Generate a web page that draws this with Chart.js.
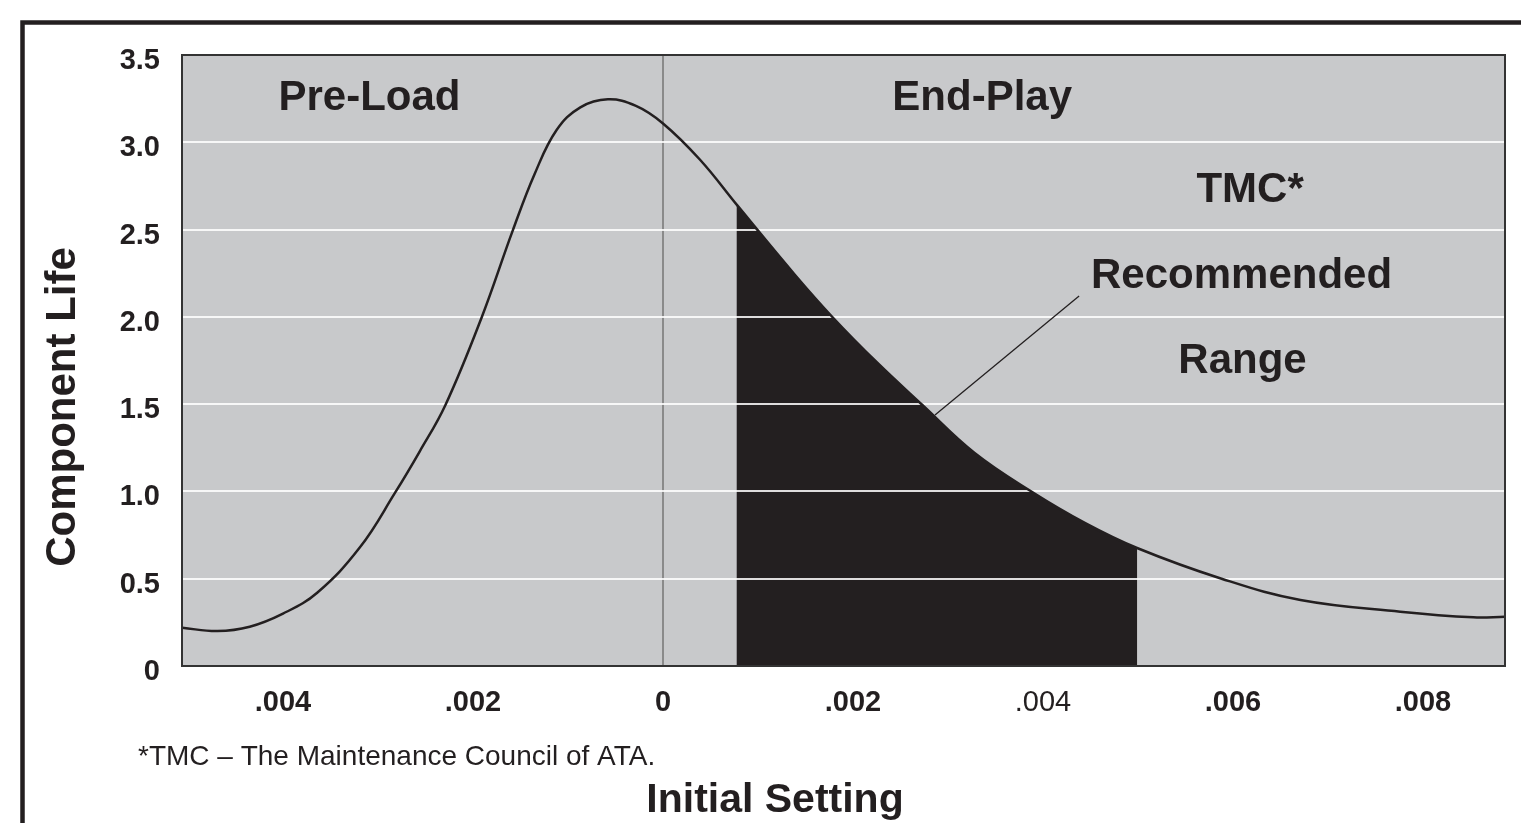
<!DOCTYPE html>
<html>
<head>
<meta charset="utf-8">
<title>Component Life vs Initial Setting</title>
<script src="https://cdn.jsdelivr.net/npm/chart.js@4.4.1/dist/chart.umd.min.js"></script>
<style>
  html, body { margin: 0; padding: 0; background: #fff; }
  #wrap { width: 1521px; height: 823px; position: relative; }
</style>
</head>
<body>
<div id="wrap"><canvas id="lifeChart"></canvas></div>
<script>
// values (x = initial setting, negative side is pre-load)
const settingValues = [-0.00506, -0.00469, -0.00435, -0.00400, -0.00364, -0.00319, -0.00282, -0.00256, -0.00229,
  -0.00191, -0.00158, -0.00135, -0.00112, -0.00087, -0.00058, -0.00029, 0, 0.00039, 0.00078,
  0.00139, 0.00179, 0.00225, 0.00273, 0.00328, 0.00389, 0.00444, 0.00499,
  0.00588, 0.00671, 0.00776, 0.00853, 0.00886];
const lifeValues = [0.219, 0.200, 0.225, 0.300, 0.420, 0.680, 0.993, 1.230, 1.495,
  1.995, 2.497, 2.820, 3.070, 3.200, 3.246, 3.210, 3.108, 2.900, 2.640,
  2.240, 1.995, 1.740, 1.495, 1.220, 0.995, 0.820, 0.676,
  0.500, 0.378, 0.311, 0.279, 0.282];

const xTicks = [-0.004, -0.002, 0, 0.002, 0.004, 0.006, 0.008];
const xTickLabels = ['.004', '.002', '0', '.002', '.004', '.006', '.008'];
const yTicks = [0, 0.5, 1, 1.5, 2, 2.5, 3, 3.5];
const yTickLabels = ['0', '0.5', '1.0', '1.5', '2.0', '2.5', '3.0', '3.5'];

const recommendedRange = [0.000776, 0.00499];
const pointerLine = [[0.00438, 2.119], [0.002863, 1.438]];
const plotLabels = [
  { text: 'Pre-Load', x: -0.00309, y: 3.184 },
  { text: 'End-Play', x: 0.00336, y: 3.184 },
  { text: 'TMC*', x: 0.00618, y: 2.657 },
  { text: 'Recommended', x: 0.00609, y: 2.165 },
  { text: 'Range', x: 0.00610, y: 1.678 }
];

const FONT = '"Liberation Sans", Arial, Helvetica, sans-serif';
const INK = '#231f20';

const decorPlugin = {
  id: 'decor',
  beforeDraw(chart) {
    const { ctx, chartArea: a, scales: { x } } = chart;
    ctx.save();
    ctx.fillStyle = '#c8c9cb';
    ctx.fillRect(a.left, a.top, a.right - a.left, a.bottom - a.top);

    // black area under the curve for the recommended range
    const line = chart.getDatasetMeta(0).dataset;
    if (line.updateControlPoints) line.updateControlPoints(a, 'x');
    const x0 = x.getPixelForValue(recommendedRange[0]);
    const x1 = x.getPixelForValue(recommendedRange[1]);
    ctx.beginPath();
    ctx.rect(x0, a.top, x1 - x0, a.bottom - a.top);
    ctx.clip();
    ctx.beginPath();
    line.path(ctx);
    ctx.lineTo(a.right, a.bottom);
    ctx.lineTo(a.left, a.bottom);
    ctx.closePath();
    ctx.fillStyle = INK;
    ctx.fill();
    ctx.restore();
  },
  afterDatasetsDraw(chart) {
    const { ctx, scales: { x, y } } = chart;
    ctx.save();
    ctx.strokeStyle = INK;
    ctx.lineWidth = 1.3;
    ctx.beginPath();
    ctx.moveTo(x.getPixelForValue(pointerLine[0][0]), y.getPixelForValue(pointerLine[0][1]));
    ctx.lineTo(x.getPixelForValue(pointerLine[1][0]), y.getPixelForValue(pointerLine[1][1]));
    ctx.stroke();
    ctx.restore();
  },
  afterDraw(chart) {
    const { ctx, chartArea: a, scales: { x, y } } = chart;
    ctx.save();
    // plot frame
    ctx.strokeStyle = '#333';
    ctx.lineWidth = 2;
    ctx.strokeRect(a.left, a.top, a.right - a.left, a.bottom - a.top);

    // page frame (top + left)
    ctx.strokeStyle = INK;
    ctx.lineWidth = 4.5;
    ctx.beginPath();
    ctx.moveTo(22.5, 830);
    ctx.lineTo(22.5, 22.5);
    ctx.lineTo(1530, 22.5);
    ctx.stroke();

    ctx.fillStyle = INK;
    ctx.textAlign = 'center';
    ctx.textBaseline = 'alphabetic';
    ctx.font = 'bold 42px ' + FONT;
    plotLabels.forEach(l => ctx.fillText(l.text, x.getPixelForValue(l.x), y.getPixelForValue(l.y)));

    ctx.font = 'bold 41px ' + FONT;
    ctx.fillText('Initial Setting', 775, 812);

    ctx.save();
    ctx.translate(75, 407);
    ctx.rotate(-Math.PI / 2);
    ctx.font = 'bold 42px ' + FONT;
    ctx.fillText('Component Life', 0, 0);
    ctx.restore();

    ctx.textAlign = 'left';
    ctx.font = '28px ' + FONT;
    ctx.fillText('*TMC \u2013 The Maintenance Council of ATA.', 138, 765);
    ctx.restore();
  }
};

new Chart(document.getElementById('lifeChart').getContext('2d'), {
  type: 'line',
  data: {
    datasets: [{
      data: settingValues.map((v, i) => ({ x: v, y: lifeValues[i] })),
      borderColor: INK,
      borderWidth: 2.5,
      pointRadius: 0,
      fill: false,
      tension: 0.4
    }]
  },
  options: {
    responsive: true,
    maintainAspectRatio: false,
    animation: false,
    layout: { padding: { top: 55, right: 16, left: 0, bottom: 0 } },
    plugins: { legend: { display: false }, tooltip: { enabled: false } },
    scales: {
      x: {
        type: 'linear',
        min: -0.005063,
        max: 0.008863,
        afterBuildTicks: s => { s.ticks = xTicks.map(v => ({ value: v })); },
        afterFit: s => { s.height = 157; },
        grid: {
          drawTicks: false,
          lineWidth: 2,
          color: c => (c.tick && c.tick.value === 0 ? '#8a8a8a' : 'rgba(0,0,0,0)')
        },
        border: { display: false },
        ticks: {
          padding: 20,
          color: INK,
          maxRotation: 0,
          autoSkip: false,
          callback: (v, i) => xTickLabels[i],
          font: c => ({ family: FONT, size: 29, weight: c.index === 4 ? 'normal' : 'bold' })
        }
      },
      y: {
        min: 0,
        max: 3.5,
        afterBuildTicks: s => { s.ticks = yTicks.map(v => ({ value: v })); },
        afterFit: s => { s.width = 182; },
        grid: {
          drawTicks: false,
          lineWidth: 2,
          color: c => (c.tick && (c.tick.value === 0 || c.tick.value === 3.5) ? 'rgba(0,0,0,0)' : 'rgba(255,255,255,0.85)')
        },
        border: { display: false },
        ticks: {
          padding: 22,
          labelOffset: 6,
          color: INK,
          callback: (v, i) => yTickLabels[i],
          font: { family: FONT, size: 29, weight: 'bold' }
        }
      }
    }
  },
  plugins: [decorPlugin]
});
</script>
</body>
</html>
